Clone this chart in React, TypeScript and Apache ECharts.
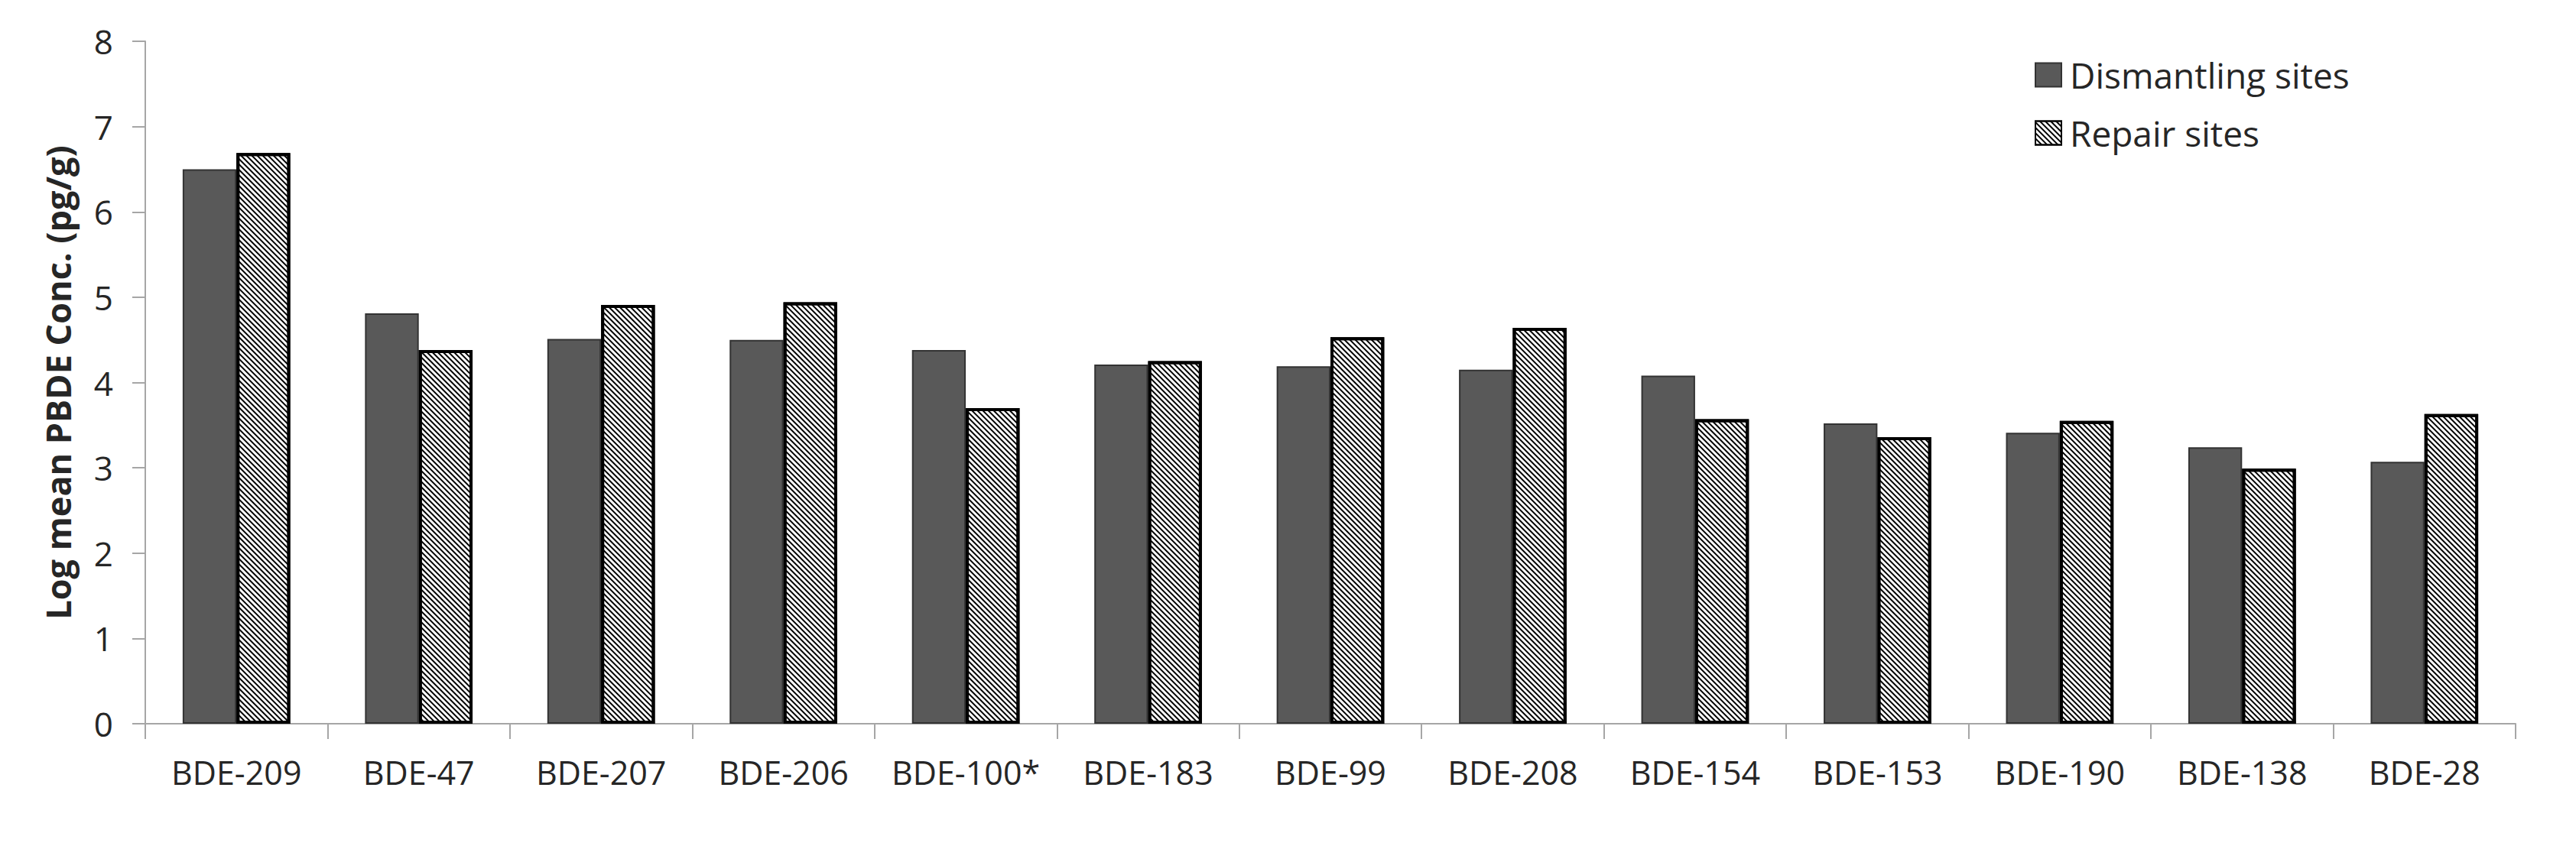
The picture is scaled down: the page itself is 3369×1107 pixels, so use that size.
import React, { useEffect, useRef } from "react";
import * as echarts from "echarts";

const categories = ["BDE-209", "BDE-47", "BDE-207", "BDE-206", "BDE-100*", "BDE-183", "BDE-99", "BDE-208", "BDE-154", "BDE-153", "BDE-190", "BDE-138", "BDE-28"];
const dismantling = [6.5, 4.81, 4.51, 4.5, 4.38, 4.21, 4.19, 4.15, 4.08, 3.52, 3.41, 3.24, 3.07];
const repair = [6.69, 4.38, 4.91, 4.94, 3.7, 4.25, 4.53, 4.64, 3.57, 3.36, 3.55, 2.99, 3.63];
const yTicks = { min: 0, max: 8, interval: 1 };

const FONT = "'Open Sans', sans-serif";
const TEXT = "#262626";
const AXIS = "#a6a6a6";

export default function App() {
  const ref = useRef<HTMLDivElement>(null);
  useEffect(() => {
    if (!ref.current) return;
    const chart = echarts.init(ref.current, undefined, { renderer: "svg" });
    chart.setOption({
      animation: false,
      backgroundColor: "#ffffff",
      textStyle: { fontFamily: FONT },
      grid: { left: 190, right: 79, top: 54, bottom: 160, containLabel: false },
      legend: {
        orient: "vertical",
        left: 2661,
        top: 75,
        padding: 0,
        itemGap: 30,
        itemWidth: 34,
        itemHeight: 31,
        icon: "rect",
        textStyle: { fontFamily: FONT, fontSize: 46, color: TEXT, padding: [0, 0, 0, 6] },
        data: ["Dismantling sites", "Repair sites"],
      },
      xAxis: {
        type: "category",
        data: categories,
        axisLine: { lineStyle: { color: AXIS, width: 2 } },
        axisTick: { show: true, length: 20, lineStyle: { color: AXIS, width: 2 } },
        axisLabel: { fontFamily: FONT, fontSize: 43, color: TEXT, margin: 42, interval: 0 },
      },
      yAxis: {
        type: "value",
        min: yTicks.min,
        max: yTicks.max,
        interval: yTicks.interval,
        name: "Log mean PBDE Conc. (pg/g)",
        nameLocation: "middle",
        nameGap: 92,
        nameTextStyle: { fontFamily: FONT, fontSize: 45, fontWeight: "bold", color: TEXT },
        axisLine: { show: true, lineStyle: { color: AXIS, width: 2 } },
        axisTick: { show: true, length: 17, lineStyle: { color: AXIS, width: 2 } },
        splitLine: { show: false },
        axisLabel: { fontFamily: FONT, fontSize: 44, color: TEXT, margin: 42 },
      },
      series: [
        {
          name: "Dismantling sites",
          type: "bar",
          data: dismantling,
          barGap: "0%",
          barCategoryGap: "41%",
          itemStyle: { color: "#595959", borderColor: "#333333", borderWidth: 2 },
        },
        {
          name: "Repair sites",
          type: "bar",
          data: repair,
          barGap: "0%",
          barCategoryGap: "41%",
          itemStyle: {
            color: "#ffffff",
            borderColor: "#000000",
            borderWidth: 4,
            decal: {
              symbol: "rect",
              symbolSize: 1,
              dashArrayX: [1, 0],
              dashArrayY: [2, 3],
              rotation: Math.PI / 4,
              color: "#000000",
            },
          },
        },
      ],
    });
    return () => chart.dispose();
  }, []);
  return <div ref={ref} style={{ position: "fixed", left: 0, top: 0, width: 3369, height: 1107 }} />;
}
